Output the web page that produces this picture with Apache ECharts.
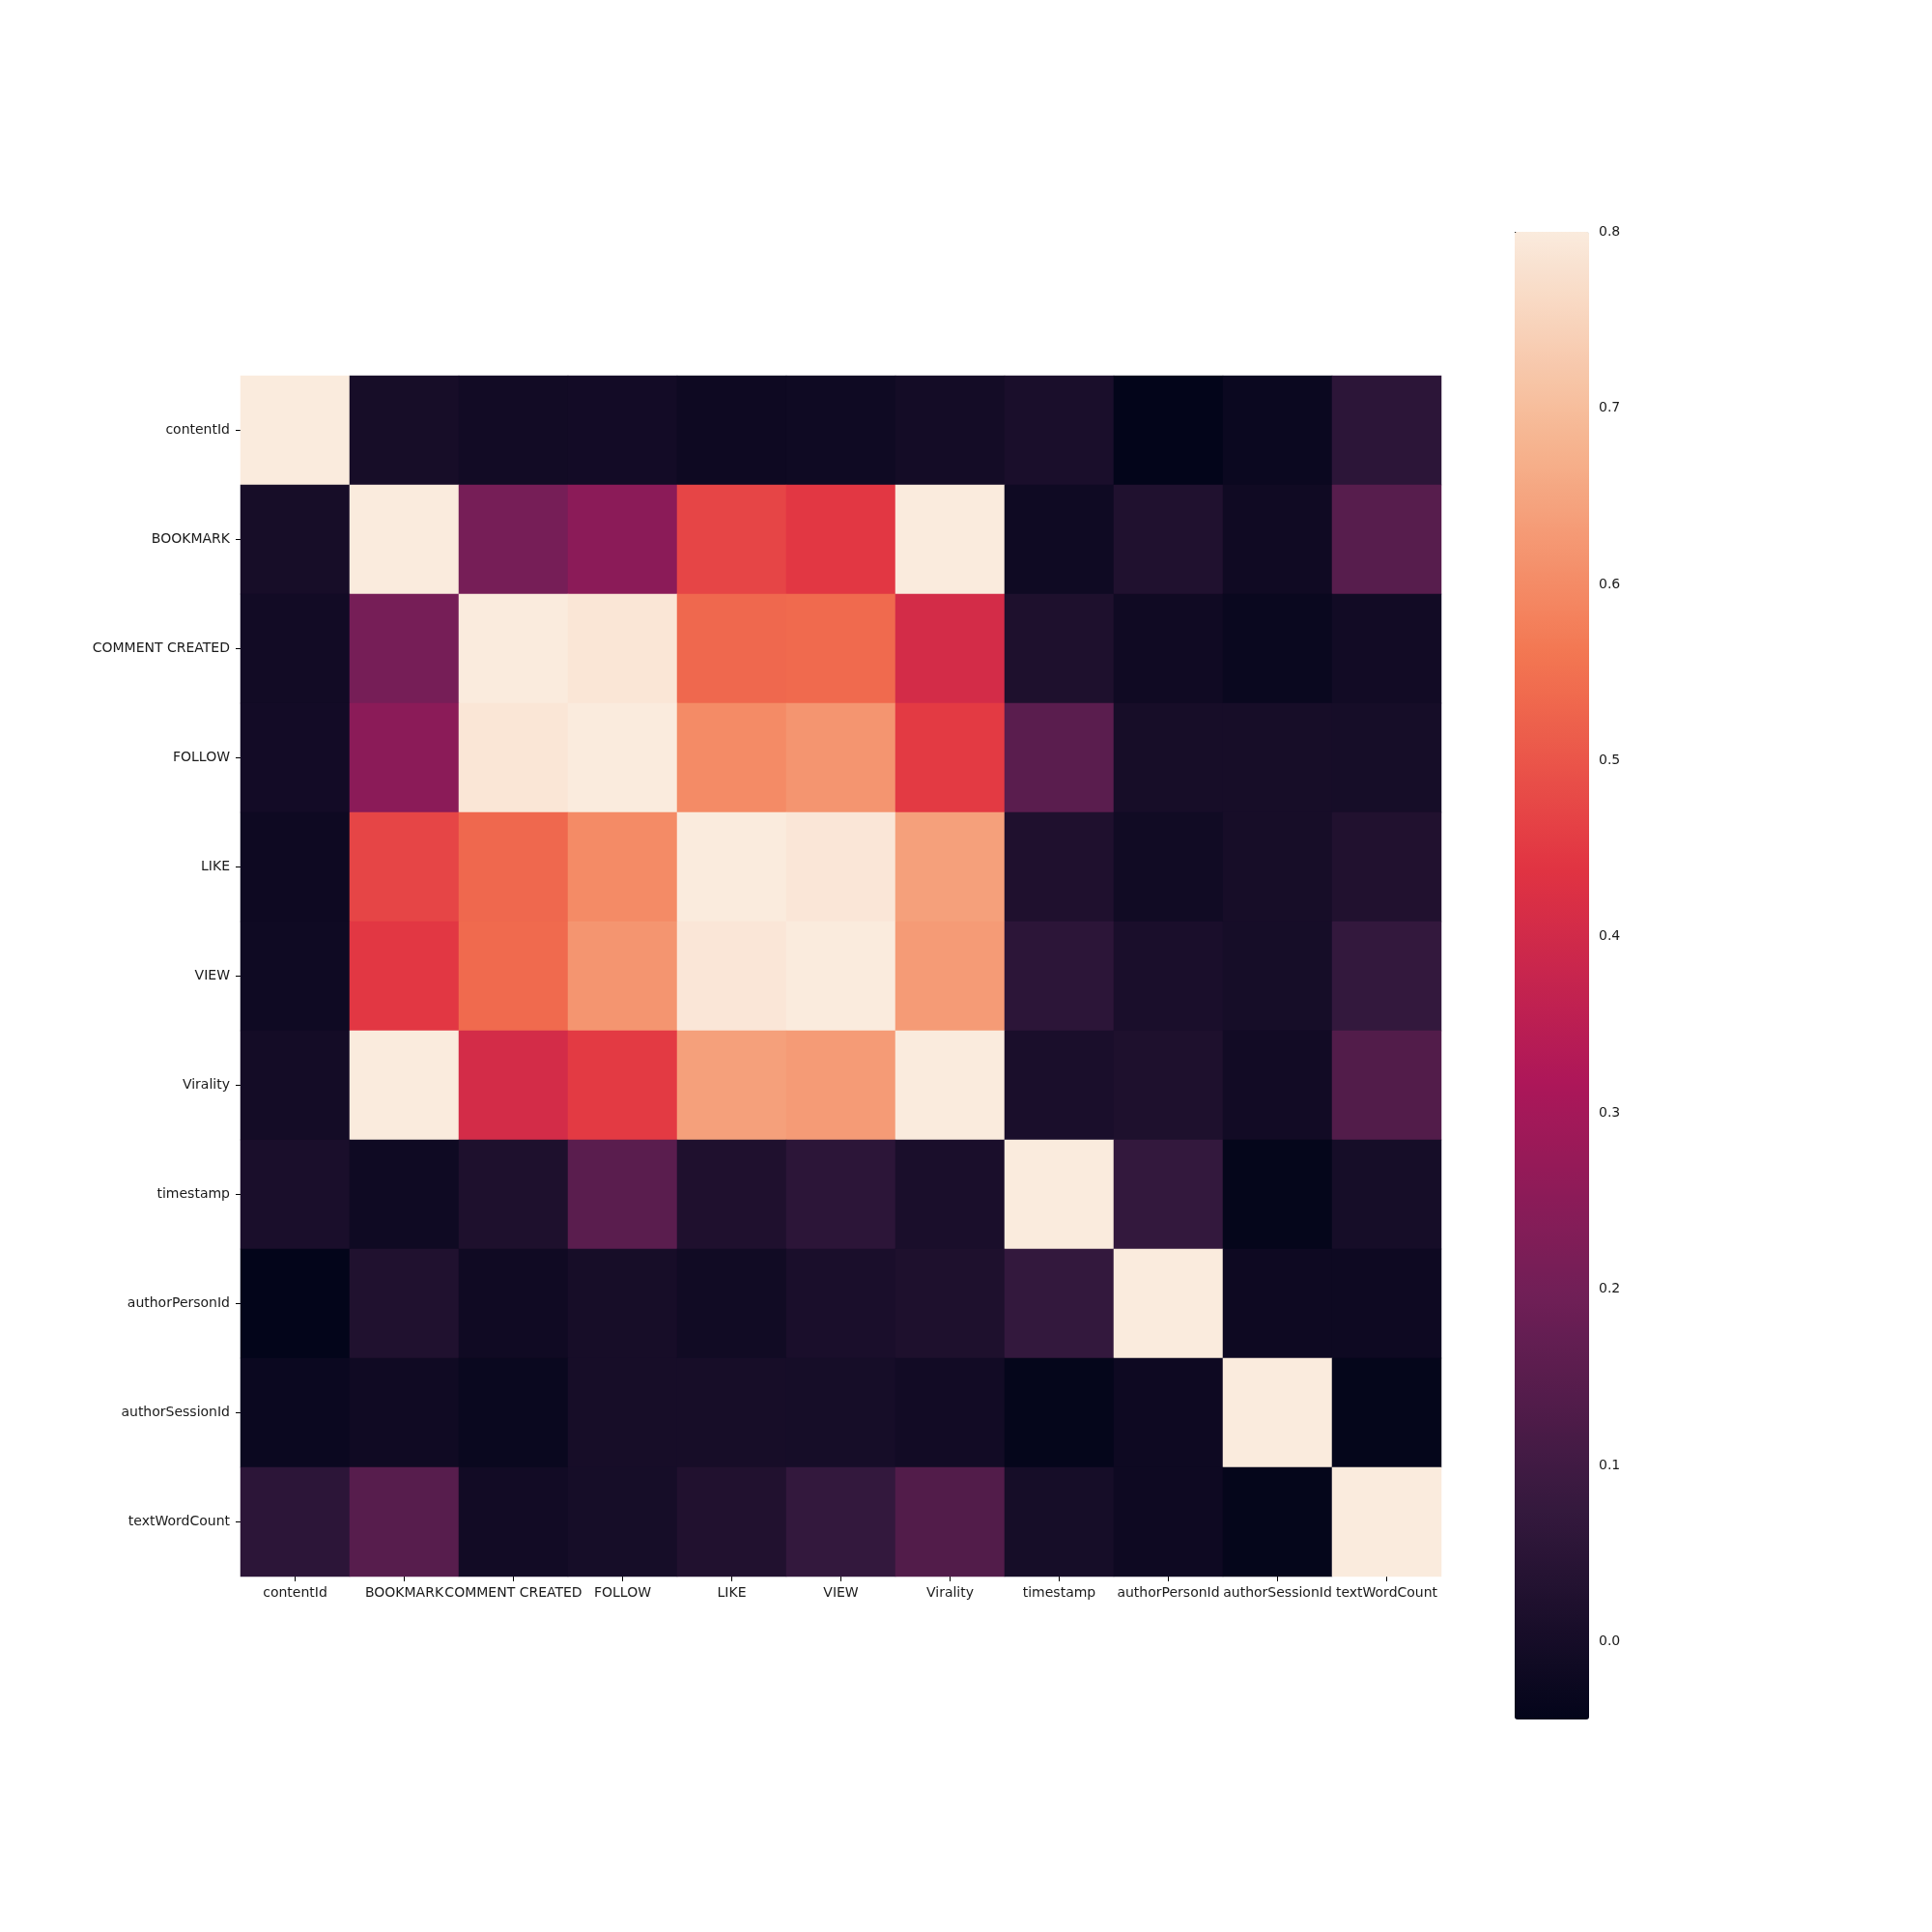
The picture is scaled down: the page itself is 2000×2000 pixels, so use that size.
<!DOCTYPE html>
<html>
<head>
<meta charset="utf-8">
<script src="https://cdn.jsdelivr.net/npm/echarts@6/dist/echarts.min.js"></script>
<style>
  html, body { margin: 0; padding: 0; background: #fff; }
  #heat { width: 2000px; height: 2000px; }
</style>
</head>
<body>
<div id="heat"></div>
<script>
// feature names (rows top to bottom, columns left to right)
var labels = ["contentId", "BOOKMARK", "COMMENT CREATED", "FOLLOW", "LIKE", "VIEW",
  "Virality", "timestamp", "authorPersonId", "authorSessionId", "textWordCount"];

// correlation values, one row per feature
var corr = [
  [1.000, 0.004, -0.008, -0.005, -0.017, -0.015, -0.003, 0.012, -0.044, -0.025, 0.055],
  [0.004, 1.000, 0.209, 0.250, 0.470, 0.445, 0.990, -0.015, 0.026, -0.013, 0.147],
  [-0.008, 0.209, 1.000, 0.789, 0.533, 0.537, 0.406, 0.021, -0.013, -0.026, -0.008],
  [-0.005, 0.250, 0.789, 1.000, 0.599, 0.619, 0.450, 0.152, 0.004, 0.004, 0.002],
  [-0.017, 0.470, 0.533, 0.599, 1.000, 0.790, 0.640, 0.024, -0.010, 0.004, 0.028],
  [-0.015, 0.445, 0.537, 0.619, 0.790, 1.000, 0.631, 0.055, 0.012, 0.002, 0.072],
  [-0.003, 0.990, 0.406, 0.450, 0.640, 0.631, 1.000, 0.012, 0.020, -0.008, 0.136],
  [0.012, -0.015, 0.021, 0.152, 0.024, 0.055, 0.012, 1.000, 0.072, -0.039, 0.002],
  [-0.044, 0.026, -0.013, 0.004, -0.010, 0.012, 0.020, 0.072, 1.000, -0.017, -0.017],
  [-0.025, -0.013, -0.026, 0.004, 0.004, 0.002, -0.008, -0.039, -0.017, 1.000, -0.039],
  [0.055, 0.147, -0.008, 0.002, 0.028, 0.072, 0.136, 0.002, -0.017, -0.039, 1.000]
];

// colour scale limits and colorbar ticks
var vmin = -0.044;
var vmax = 0.8;
var colorTicks = [0.0, 0.1, 0.2, 0.3, 0.4, 0.5, 0.6, 0.7, 0.8];

// rocket colormap, evenly spaced stops
var rocket = ["#03051a", "#35193e", "#701f57", "#ad1759", "#e13342", "#f37651", "#f6b48f", "#faebdd"];

var cells = [];
corr.forEach(function (row, r) {
  row.forEach(function (v, c) {
    // 4th entry is the value clipped to the colour range (like seaborn)
    cells.push([c, r, v, Math.max(vmin, Math.min(vmax, v))]);
  });
});

var font = "DejaVu Sans";
var chart = echarts.init(document.getElementById("heat"));
chart.setOption({
  animation: false,
  backgroundColor: "#fff",
  grid: [
    // 11 cells of 113px each so cell edges land on whole pixels
    { left: 249, top: 389, width: 1243, height: 1243 },
    { left: 1568, top: 240, width: 77, height: 1540 }
  ],
  xAxis: [
    {
      type: "category", gridIndex: 0, data: labels,
      axisLine: { show: false },
      axisTick: { show: true, alignWithLabel: true, length: 5, lineStyle: { color: "#000", width: 1 } },
      axisLabel: { interval: 0, hideOverlap: false, margin: 10, fontFamily: font, fontSize: 14, color: "#1a1a1a" },
      splitLine: { show: false }
    },
    { type: "value", gridIndex: 1, show: false, min: 0, max: 1 }
  ],
  yAxis: [
    {
      type: "category", gridIndex: 0, data: labels, inverse: true,
      axisLine: { show: false },
      axisTick: { show: true, alignWithLabel: true, length: 5, lineStyle: { color: "#000", width: 1 } },
      axisLabel: { interval: 0, margin: 11, fontFamily: font, fontSize: 14, color: "#1a1a1a" },
      splitLine: { show: false }
    },
    {
      type: "value", gridIndex: 1, position: "right", min: vmin, max: vmax,
      axisLine: { show: false },
      splitLine: { show: false },
      axisTick: { show: true, length: 5, customValues: colorTicks, lineStyle: { color: "#000", width: 1 } },
      axisLabel: {
        margin: 10, fontFamily: font, fontSize: 14, color: "#1a1a1a",
        customValues: colorTicks,
        formatter: function (v) { return v.toFixed(1); }
      }
    }
  ],
  visualMap: {
    type: "continuous",
    min: vmin, max: vmax,
    dimension: 3,
    seriesIndex: 0,
    calculable: false,
    orient: "vertical",
    left: 1568, top: 240,
    itemWidth: 77, itemHeight: 1540,
    padding: 0,
    text: null,
    showLabel: false,
    hoverLink: false,
    indicatorSize: 0,
    inRange: { color: rocket }
  },
  series: [
    {
      type: "heatmap",
      xAxisIndex: 0, yAxisIndex: 0,
      data: cells,
      itemStyle: { borderWidth: 0 },
      emphasis: { disabled: true }
    }
  ]
});
</script>
</body>
</html>
